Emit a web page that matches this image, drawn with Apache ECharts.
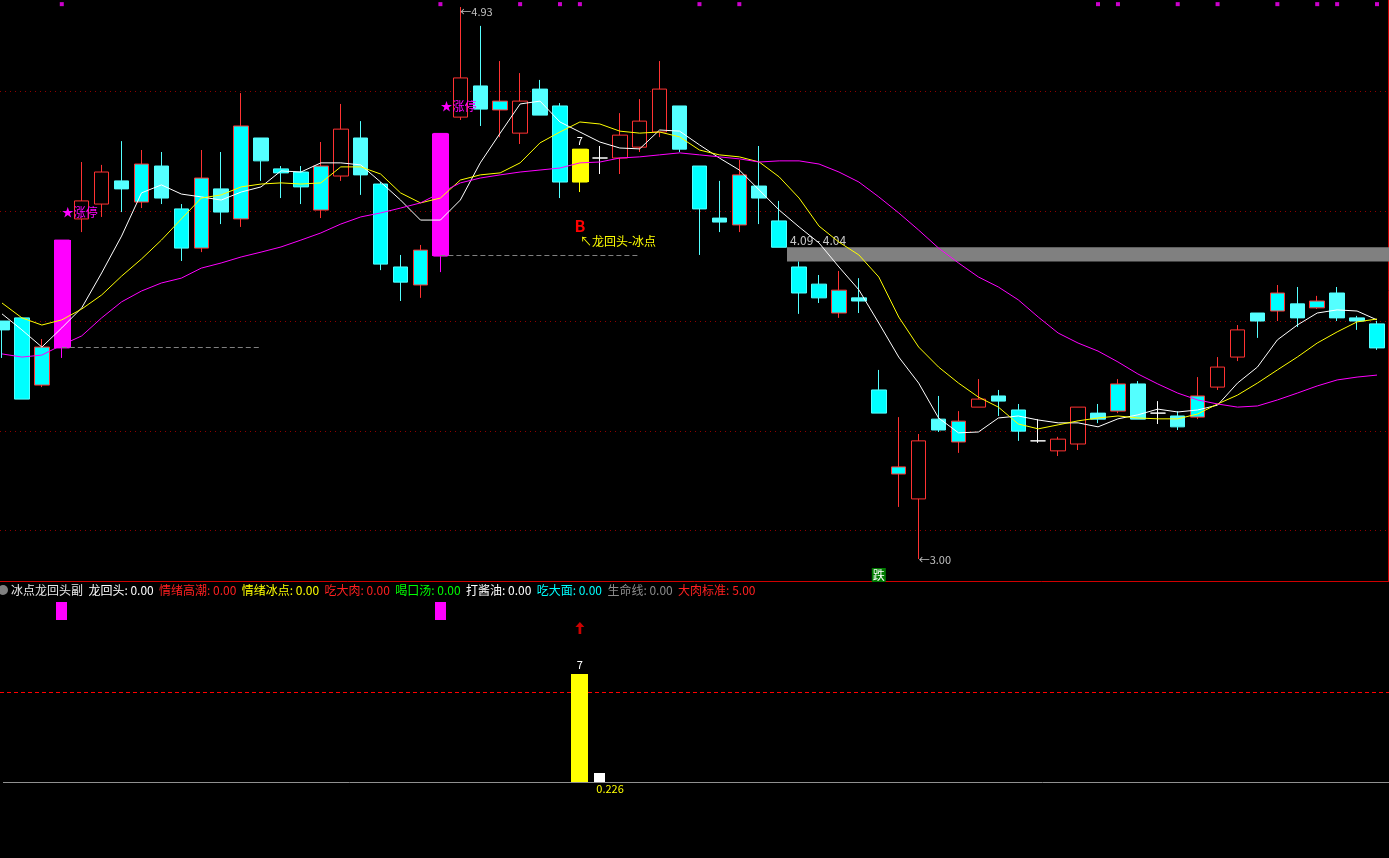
<!DOCTYPE html>
<html>
<head>
<meta charset="utf-8">
<script src="https://cdn.jsdelivr.net/npm/echarts@6/dist/echarts.min.js"></script>
<style>
  html, body { margin: 0; background: #000; }
  #chart { width: 1389px; height: 858px; }
</style>
</head>
<body>
<div id="chart"></div>
<script>
// K线数据 [开, 收, 低, 高]，第0根在左边被截掉一半
const ohlc = [
  [3.832, 3.801, 3.703, 3.832], [3.843, 3.559, 3.559, 3.843], [3.608, 3.741, 3.601, 3.769], [3.738, 4.115, 3.703, 4.115],
  [4.189, 4.252, 4.143, 4.388], [4.241, 4.353, 4.196, 4.378], [4.322, 4.294, 4.213, 4.461], [4.248, 4.381, 4.227, 4.430],
  [4.374, 4.262, 4.241, 4.423], [4.224, 4.087, 4.042, 4.241], [4.087, 4.332, 4.073, 4.430], [4.294, 4.213, 4.171, 4.423],
  [4.189, 4.514, 4.161, 4.629], [4.472, 4.392, 4.322, 4.472], [4.364, 4.350, 4.262, 4.374], [4.353, 4.301, 4.241, 4.374],
  [4.220, 4.374, 4.192, 4.458], [4.339, 4.503, 4.322, 4.591], [4.472, 4.343, 4.273, 4.531], [4.311, 4.031, 4.010, 4.318],
  [4.021, 3.968, 3.902, 4.063], [3.958, 4.080, 3.913, 4.098], [4.059, 4.488, 4.003, 4.488], [4.545, 4.682, 4.535, 4.930],
  [4.654, 4.573, 4.514, 4.864], [4.570, 4.601, 4.475, 4.741], [4.489, 4.601, 4.451, 4.699], [4.643, 4.552, 4.552, 4.675],
  [4.584, 4.318, 4.262, 4.594], [4.433, 4.318, 4.283, 4.433], [4.402, 4.402, 4.346, 4.444], [4.402, 4.482, 4.346, 4.559],
  [4.440, 4.531, 4.423, 4.608], [4.493, 4.643, 4.475, 4.741], [4.584, 4.433, 4.423, 4.584], [4.374, 4.224, 4.063, 4.374],
  [4.192, 4.178, 4.143, 4.322], [4.168, 4.343, 4.143, 4.395], [4.304, 4.262, 4.171, 4.444], [4.182, 4.090, 4.090, 4.252],
  [4.021, 3.930, 3.857, 4.040], [3.961, 3.913, 3.895, 3.993], [3.860, 3.940, 3.843, 4.007], [3.913, 3.902, 3.860, 3.982],
  [3.591, 3.510, 3.510, 3.661], [3.297, 3.322, 3.182, 3.496], [3.210, 3.413, 3.000, 3.437], [3.489, 3.451, 3.444, 3.570],
  [3.409, 3.482, 3.371, 3.517], [3.531, 3.559, 3.531, 3.629], [3.570, 3.552, 3.500, 3.591], [3.521, 3.447, 3.413, 3.542],
  [3.413, 3.413, 3.406, 3.489], [3.378, 3.419, 3.360, 3.427], [3.402, 3.531, 3.381, 3.531], [3.510, 3.489, 3.475, 3.542],
  [3.517, 3.612, 3.510, 3.629], [3.612, 3.489, 3.489, 3.622], [3.510, 3.510, 3.472, 3.552], [3.500, 3.462, 3.451, 3.517],
  [3.496, 3.570, 3.489, 3.636], [3.601, 3.671, 3.591, 3.706], [3.706, 3.801, 3.692, 3.818], [3.860, 3.832, 3.773, 3.860],
  [3.867, 3.930, 3.832, 3.958], [3.892, 3.843, 3.811, 3.951], [3.878, 3.902, 3.874, 3.920], [3.930, 3.843, 3.832, 3.951],
  [3.843, 3.832, 3.801, 3.850], [3.822, 3.738, 3.731, 3.832]
];

// 均线（白、黄、紫）
const ma5 = [3.857, 3.801, 3.741, 3.808, 3.878, 4.000, 4.129, 4.280, 4.308, 4.276, 4.266, 4.255, 4.283, 4.301, 4.357, 4.353, 4.385, 4.385, 4.378, 4.318,
  4.255, 4.185, 4.185, 4.255, 4.385, 4.489, 4.591, 4.601, 4.528, 4.493, 4.458, 4.437, 4.434, 4.500, 4.496, 4.448, 4.402, 4.360, 4.290, 4.220,
  4.161, 4.105, 4.021, 3.941, 3.825, 3.706, 3.615, 3.493, 3.441, 3.444, 3.493, 3.500, 3.486, 3.476, 3.476, 3.462, 3.490, 3.504, 3.524, 3.514,
  3.521, 3.538, 3.615, 3.671, 3.766, 3.818, 3.860, 3.871, 3.867, 3.836];
const ma10 = [3.895, 3.843, 3.818, 3.836, 3.874, 3.923, 3.989, 4.049, 4.115, 4.189, 4.262, 4.273, 4.301, 4.311, 4.315, 4.311, 4.315, 4.371, 4.371, 4.346,
  4.280, 4.245, 4.262, 4.325, 4.343, 4.350, 4.385, 4.455, 4.493, 4.528, 4.521, 4.496, 4.489, 4.493, 4.476, 4.430, 4.413, 4.406, 4.388, 4.336,
  4.262, 4.164, 4.108, 4.063, 3.986, 3.846, 3.741, 3.671, 3.615, 3.566, 3.531, 3.472, 3.455, 3.469, 3.483, 3.493, 3.500, 3.493, 3.490, 3.490,
  3.507, 3.542, 3.573, 3.615, 3.661, 3.706, 3.755, 3.794, 3.829, 3.839];
const ma30 = [3.717, 3.706, 3.713, 3.748, 3.780, 3.843, 3.899, 3.937, 3.965, 3.982, 4.017, 4.035, 4.056, 4.073, 4.091, 4.115, 4.140, 4.171, 4.196, 4.210,
  4.227, 4.245, 4.280, 4.315, 4.332, 4.343, 4.353, 4.360, 4.367, 4.385, 4.388, 4.402, 4.406, 4.413, 4.420, 4.413, 4.406, 4.399, 4.388, 4.392,
  4.392, 4.381, 4.353, 4.318, 4.266, 4.210, 4.150, 4.087, 4.035, 3.986, 3.951, 3.906, 3.846, 3.790, 3.755, 3.727, 3.689, 3.647, 3.612, 3.580,
  3.556, 3.542, 3.531, 3.535, 3.556, 3.580, 3.605, 3.626, 3.636, 3.643];

// 信号所在的K线序号
const brightDown = [1, 9, 14, 15, 19, 20, 28, 35, 39, 40, 41, 44, 51, 69];
const brightUp = [2, 7, 10, 12, 16, 21, 25, 37, 42, 45, 48, 56, 60, 64, 66];
const limitUp = [3, 22];
const dojiIdx = [30, 52, 58];
const iceIdx = [29];
const topDots = [3, 22, 26, 28, 29, 35, 37, 55, 56, 59, 61, 64, 66, 67, 69];
const topDotLevel = 4.94;

// 横向网格价位 / 缺口 / 虚线 [起, 止, 价]
const gridPrices = [4.636, 4.217, 3.832, 3.447, 3.101];
const gaps = [[39, 4.09, 4.04]];
const dashLines = [[3, 13, 3.741], [22, 32, 4.063]];

// 文字标注 [序号, 价位, 文字]
const notes = [
  [3, 4.210, '★涨停'], [22, 4.584, '★涨停'], [23, 4.93, '←4.93'], [46, 3.00, '←3.00'],
  [29, 4.461, '7'], [29, 4.164, 'B'], [29, 4.112, '↖龙回头-冰点'], [44, 2.944, '跌']
];

// 副图
const subLimit = [[3, 9, 10], [22, 9, 10]];
const subIce = [[29, 0, 6.0]];
const subIceLabel = ['7'];
const subOil = [[30, 0, 0.5]];
const subOilLabel = ['0.226'];
const subArrow = [[29, 8.56]];
const meatStd = 5;
const legendNames = ['龙回头', '情绪高潮', '情绪冰点', '吃大肉', '喝口汤', '打酱油', '吃大面', '生命线', '大肉标准'];
const legendValues = [0, 0, 0, 0, 0, 0, 0, 0, 5];
const legendKeys = ['w', 'r', 'y', 'r', 'g', 'w', 'c', 's', 'r'];

const FONT = '"Noto Sans CJK SC", "Noto Sans", sans-serif';
const cats = ohlc.map((_, i) => String(i));

const candleData = ohlc.map((v, i) => {
  let c = null;
  if (limitUp.includes(i)) c = { color: '#ff00ff', color0: '#ff00ff', borderColor: '#ff00ff', borderColor0: '#ff00ff' };
  else if (iceIdx.includes(i)) c = { color: '#ffff00', color0: '#ffff00', borderColor: '#ffff00', borderColor0: '#ffff00' };
  else if (dojiIdx.includes(i)) c = { color: '#ffffff', color0: '#ffffff', borderColor: '#ffffff', borderColor0: '#ffffff' };
  else if (brightUp.includes(i)) c = { color: '#00ffff' };
  else if (brightDown.includes(i)) c = { color0: '#00ffff' };
  return c ? { value: v, itemStyle: c } : v;
});

// 涨停和冰点K线的实体画得宽一点
const wideBodies = limitUp.map(i => [i, ohlc[i][0], ohlc[i][1], 0])
  .concat(iceIdx.map(i => [i, ohlc[i][0], ohlc[i][1], 1]));
const wideColors = ['#ff00ff', '#ffff00'];

const noteStyle = {
  '★涨停': { color: '#ff00ff', fontSize: 12, position: 'right' },
  '←4.93': { color: '#c0c0c0', fontSize: 11, position: 'right', offset: [0, 5] },
  '←3.00': { color: '#c0c0c0', fontSize: 11, position: 'right', offset: [0, 1] },
  '7': { color: '#ffffff', fontSize: 11, position: 'inside' },
  'B': { color: '#ff0000', fontSize: 16, fontWeight: 'bold', position: 'inside' },
  '↖龙回头-冰点': { color: '#ffff00', fontSize: 12, position: 'right' },
  '跌': { color: '#ffffff', fontSize: 12, position: 'inside', backgroundColor: '#007a00', padding: [1, 1] }
};

function boxSeries(data, color, width, labels, labelColor, labelBelow) {
  return {
    type: 'custom', xAxisIndex: 1, yAxisIndex: 1, silent: true,
    data: data,
    renderItem(params, api) {
      const a = api.coord([api.value(0), api.value(1)]);
      const b = api.coord([api.value(0), api.value(2)]);
      const children = [{
        type: 'rect',
        shape: { x: Math.round(a[0] - width / 2), y: b[1], width: width, height: a[1] - b[1] },
        style: { fill: color }
      }];
      if (labels) {
        children.push({
          type: 'text',
          x: labelBelow ? a[0] - width / 2 + 2 : a[0],
          y: labelBelow ? a[1] + 1 : b[1] - 4,
          style: {
            text: labels[params.dataIndex], fill: labelColor, font: '11px ' + FONT,
            align: labelBelow ? 'left' : 'center', verticalAlign: labelBelow ? 'top' : 'bottom'
          }
        });
      }
      return { type: 'group', children };
    }
  };
}

// 横线：整行（只有价位）或者两根K线之间
function hLineSeries(gridIdx, data, stroke, dash, x0) {
  return {
    type: 'custom', xAxisIndex: gridIdx, yAxisIndex: gridIdx, silent: true, z: 1,
    data: data,
    renderItem(params, api) {
      const full = data[params.dataIndex].length === 1;
      const price = full ? api.value(0) : api.value(2);
      const y = Math.round(api.coord([0, price])[1]) + 0.5;
      const xa = full ? (x0 || 0) : api.coord([api.value(0), price])[0];
      const xb = full ? api.getWidth() : api.coord([api.value(1), price])[0];
      return {
        type: 'line', shape: { x1: xa, y1: y, x2: xb, y2: y },
        style: { stroke: stroke, lineWidth: 1, lineDash: dash }
      };
    }
  };
}

const chart = echarts.init(document.getElementById('chart'));

const legendText = '{n|冰点龙回头副}  ' + legendNames.map((n, i) =>
  `{${legendKeys[i]}|${n}: ${legendValues[i].toFixed(2)}}`).join('  ');

const option = {
  backgroundColor: '#000',
  animation: false,
  textStyle: { fontFamily: FONT },
  title: {
    left: 11, top: 584, padding: 0,
    text: legendText,
    textStyle: {
      fontSize: 12, fontWeight: 'normal', color: '#fff',
      rich: {
        n: { color: '#e8e8e8', fontSize: 12 },
        w: { color: '#ffffff', fontSize: 12 },
        r: { color: '#ff2020', fontSize: 12 },
        y: { color: '#ffff00', fontSize: 12 },
        g: { color: '#00ff00', fontSize: 12 },
        c: { color: '#00ffff', fontSize: 12 },
        s: { color: '#8c8c8c', fontSize: 12 }
      }
    }
  },
  graphic: [
    { type: 'line', shape: { x1: 0, y1: 581.5, x2: 1389, y2: 581.5 }, style: { stroke: '#d00000', lineWidth: 1 } },
    { type: 'line', shape: { x1: 1388.5, y1: 0, x2: 1388.5, y2: 581 }, style: { stroke: '#d00000', lineWidth: 1 } },
    { type: 'circle', shape: { cx: 3, cy: 590, r: 5 }, style: { fill: '#808080' } }
  ],
  grid: [
    { left: 2, top: 0, width: 1375, height: 581 },
    { left: 2, top: 581, width: 1375, height: 277 }
  ],
  xAxis: [
    { type: 'category', gridIndex: 0, data: cats, boundaryGap: false, show: false },
    { type: 'category', gridIndex: 1, data: cats, boundaryGap: false, show: false }
  ],
  yAxis: [
    { type: 'value', gridIndex: 0, min: 2.923, max: 4.9545, show: false, splitLine: { show: false } },
    { type: 'value', gridIndex: 1, min: -4.222, max: 11.167, show: false, splitLine: { show: false } }
  ],
  series: [
    hLineSeries(0, gridPrices.map(p => [p]), '#900000', [1, 4]),
    Object.assign(hLineSeries(0, dashLines, '#808080', [5, 3]), { z: 3 }),
    {
      type: 'candlestick', z: 2, barWidth: 15, clip: false,
      data: candleData,
      itemStyle: {
        color: '#000000', color0: '#54ffff',
        borderColor: '#ff3232', borderColor0: '#54ffff', borderWidth: 1
      },
      markPoint: {
        silent: true, symbolSize: 0,
        data: notes.map(n => {
          const s = noteStyle[n[2]];
          return {
            coord: [n[0], n[1]],
            label: Object.assign({ show: true, formatter: n[2], distance: 0, fontFamily: FONT }, s)
          };
        })
      }
    },
    {
      type: 'custom', z: 2, silent: true,
      data: wideBodies,
      renderItem(params, api) {
        const a = api.coord([api.value(0), api.value(1)]);
        const b = api.coord([api.value(0), api.value(2)]);
        return {
          type: 'rect',
          shape: { x: Math.round(a[0]) - 8, y: Math.min(a[1], b[1]), width: 17, height: Math.abs(a[1] - b[1]) },
          style: { fill: wideColors[api.value(3)] }
        };
      }
    },
    {
      // 缺口
      type: 'custom', z: 2, silent: true,
      data: gaps,
      renderItem(params, api) {
        const top = api.coord([api.value(0), api.value(1)]);
        const bot = api.coord([api.value(0), api.value(2)]);
        const x0 = Math.round(top[0] + 7.5);
        const x1 = api.getWidth();
        return {
          type: 'group', children: [
            { type: 'rect', shape: { x: x0, y: top[1], width: x1 - x0, height: bot[1] - top[1] }, style: { fill: '#808080' } },
            {
              type: 'text', x: x0 + 3, y: top[1] - 1,
              style: {
                text: api.value(1).toFixed(2) + ' - ' + api.value(2).toFixed(2),
                fill: '#c8c8c8', font: '12px ' + FONT, verticalAlign: 'bottom'
              }
            }
          ]
        };
      }
    },
    { type: 'line', z: 3, data: ma5, showSymbol: false, silent: true, lineStyle: { color: '#ffffff', width: 1 } },
    { type: 'line', z: 3, data: ma10, showSymbol: false, silent: true, lineStyle: { color: '#ffff00', width: 1 } },
    { type: 'line', z: 3, data: ma30, showSymbol: false, silent: true, lineStyle: { color: '#ff00ff', width: 1 } },
    {
      type: 'scatter', z: 4, silent: true, symbol: 'rect', symbolSize: 4,
      itemStyle: { color: '#ff00ff' },
      data: topDots.map(i => [i, topDotLevel])
    },
    // 副图
    hLineSeries(1, [[0]], '#909090', null, 3),
    hLineSeries(1, [[meatStd]], '#ff0000', [4, 3]),
    boxSeries(subLimit, '#ff00ff', 11),
    boxSeries(subIce, '#ffff00', 17, subIceLabel, '#ffffff', false),
    boxSeries(subOil, '#ffffff', 11, subOilLabel, '#ffff00', true),
    {
      type: 'scatter', xAxisIndex: 1, yAxisIndex: 1, silent: true,
      symbol: 'path://M5,0 L10,5 L6.5,5 L6.5,12 L3.5,12 L3.5,5 L0,5 Z',
      symbolSize: [9, 12], itemStyle: { color: '#ff0000' },
      data: subArrow
    }
  ]
};

chart.setOption(option);
</script>
</body>
</html>
